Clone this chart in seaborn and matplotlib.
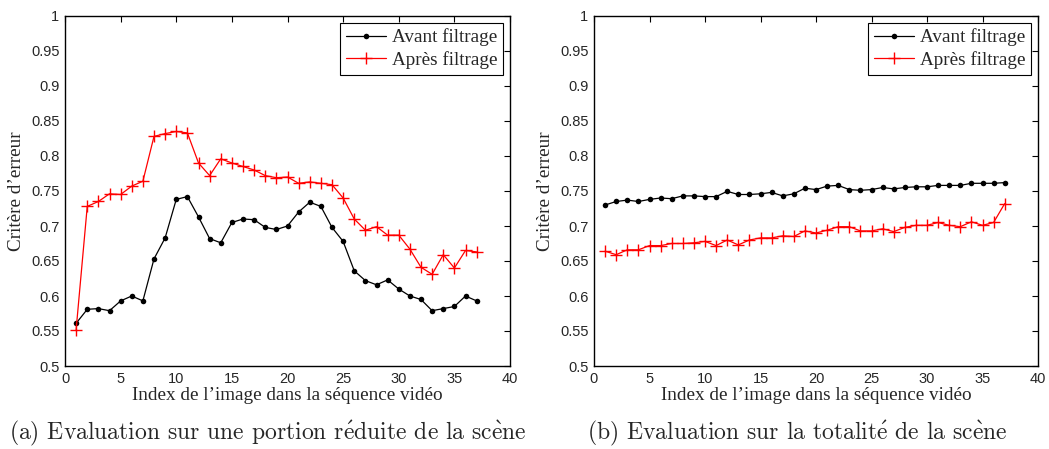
import numpy as np
import pandas as pd
import matplotlib
matplotlib.use('Agg')
import matplotlib.pyplot as plt
import seaborn as sns

# valeurs
index = list(range(1, 38))

avant_a = [0.561, 0.581, 0.582, 0.579, 0.593, 0.600, 0.593, 0.653, 0.683, 0.738,
           0.742, 0.713, 0.682, 0.676, 0.705, 0.710, 0.709, 0.698, 0.695, 0.700,
           0.720, 0.734, 0.728, 0.698, 0.678, 0.636, 0.622, 0.616, 0.623, 0.610,
           0.600, 0.595, 0.579, 0.582, 0.585, 0.600, 0.593]
apres_a = [0.552, 0.728, 0.735, 0.746, 0.745, 0.757, 0.764, 0.828, 0.832, 0.835,
           0.833, 0.790, 0.772, 0.796, 0.790, 0.785, 0.780, 0.772, 0.769, 0.770,
           0.761, 0.763, 0.761, 0.759, 0.740, 0.710, 0.694, 0.699, 0.687, 0.687,
           0.667, 0.641, 0.631, 0.659, 0.640, 0.665, 0.663]

avant_b = [0.730, 0.735, 0.737, 0.735, 0.738, 0.740, 0.739, 0.743, 0.743, 0.742,
           0.742, 0.7495, 0.745, 0.745, 0.746, 0.748, 0.743, 0.746, 0.754, 0.752,
           0.757, 0.758, 0.752, 0.751, 0.752, 0.755, 0.753, 0.755, 0.756, 0.756,
           0.758, 0.758, 0.758, 0.761, 0.761, 0.761, 0.762]
apres_b = [0.664, 0.659, 0.666, 0.666, 0.672, 0.672, 0.675, 0.675, 0.676, 0.678,
           0.672, 0.680, 0.673, 0.680, 0.683, 0.683, 0.686, 0.685, 0.693, 0.690,
           0.694, 0.699, 0.699, 0.693, 0.693, 0.696, 0.692, 0.698, 0.701, 0.701,
           0.705, 0.701, 0.699, 0.706, 0.701, 0.705, 0.732]

xticks = [0, 5, 10, 15, 20, 25, 30, 35, 40]
yticks = [0.5, 0.55, 0.6, 0.65, 0.7, 0.75, 0.8, 0.85, 0.9, 0.95, 1]
ylabel = "Critère d’erreur"
xlabel = "Index de l’image dans la séquence vidéo"
legende = ["Avant filtrage", "Après filtrage"]
# accents via mathtext (cmr10 n'a pas é / è)
captions = [r"(a) Evaluation sur une portion r$\mathrm{\acute{e}}$duite de la sc$\mathrm{\grave{e}}$ne",
            r"(b) Evaluation sur la totalit$\mathrm{\acute{e}}$ de la sc$\mathrm{\grave{e}}$ne"]
cap_x = [268 / 1049, 797 / 1049]

sns.set_style('white')
plt.rcParams['font.family'] = ['Liberation Sans', 'DejaVu Sans']
plt.rcParams['mathtext.fontset'] = 'cm'
plt.rcParams['axes.unicode_minus'] = False

fig = plt.figure(figsize=(10.49, 4.49), dpi=100)
ax1 = fig.add_axes([65/1049, 1-366/449, 445/1049, 350/449])
ax2 = fig.add_axes([594/1049, 1-366/449, 444/1049, 350/449])

serif = ['Liberation Serif', 'DejaVu Serif']

for ax, av, ap, cap, cx in [(ax1, avant_a, apres_a, captions[0], cap_x[0]),
                            (ax2, avant_b, apres_b, captions[1], cap_x[1])]:
    sns.lineplot(x=index, y=av, ax=ax, color='black', marker='o', markersize=4,
                 markeredgecolor='black', markeredgewidth=0, linewidth=0.9,
                 label=legende[0])
    sns.lineplot(x=index, y=ap, ax=ax, color='red', marker='+', markersize=9,
                 markeredgecolor='red', markeredgewidth=1, linewidth=0.9,
                 label=legende[1])
    ax.set_xlim(0, 40)
    ax.set_ylim(0.5, 1)
    ax.set_xticks(xticks)
    ax.set_yticks(yticks)
    ax.set_yticklabels(['%g' % v for v in yticks])
    ax.tick_params(direction='in', top=True, right=True, length=4, width=0.8,
                   labelsize=10.5, color='black', pad=4)
    for s in ax.spines.values():
        s.set_color('black')
        s.set_linewidth(1)
    ax.set_ylabel(ylabel, family=serif, fontsize=13.8, labelpad=4)
    ax.set_xlabel(xlabel, family=serif, fontsize=13.8, labelpad=1)
    leg = ax.legend(loc='upper right', prop={'family': serif, 'size': 13.8},
                    fancybox=False, framealpha=1, edgecolor='black',
                    borderaxespad=0.35, handlelength=2.1, borderpad=0.3,
                    labelspacing=0.25, handletextpad=0.3)
    leg.get_frame().set_linewidth(0.8)
    fig.text(cx, 10/449, cap, ha='center', va='baseline',
             family=['cmr10', 'DejaVu Serif'], fontsize=17)

fig.savefig('out.png', dpi=100)
